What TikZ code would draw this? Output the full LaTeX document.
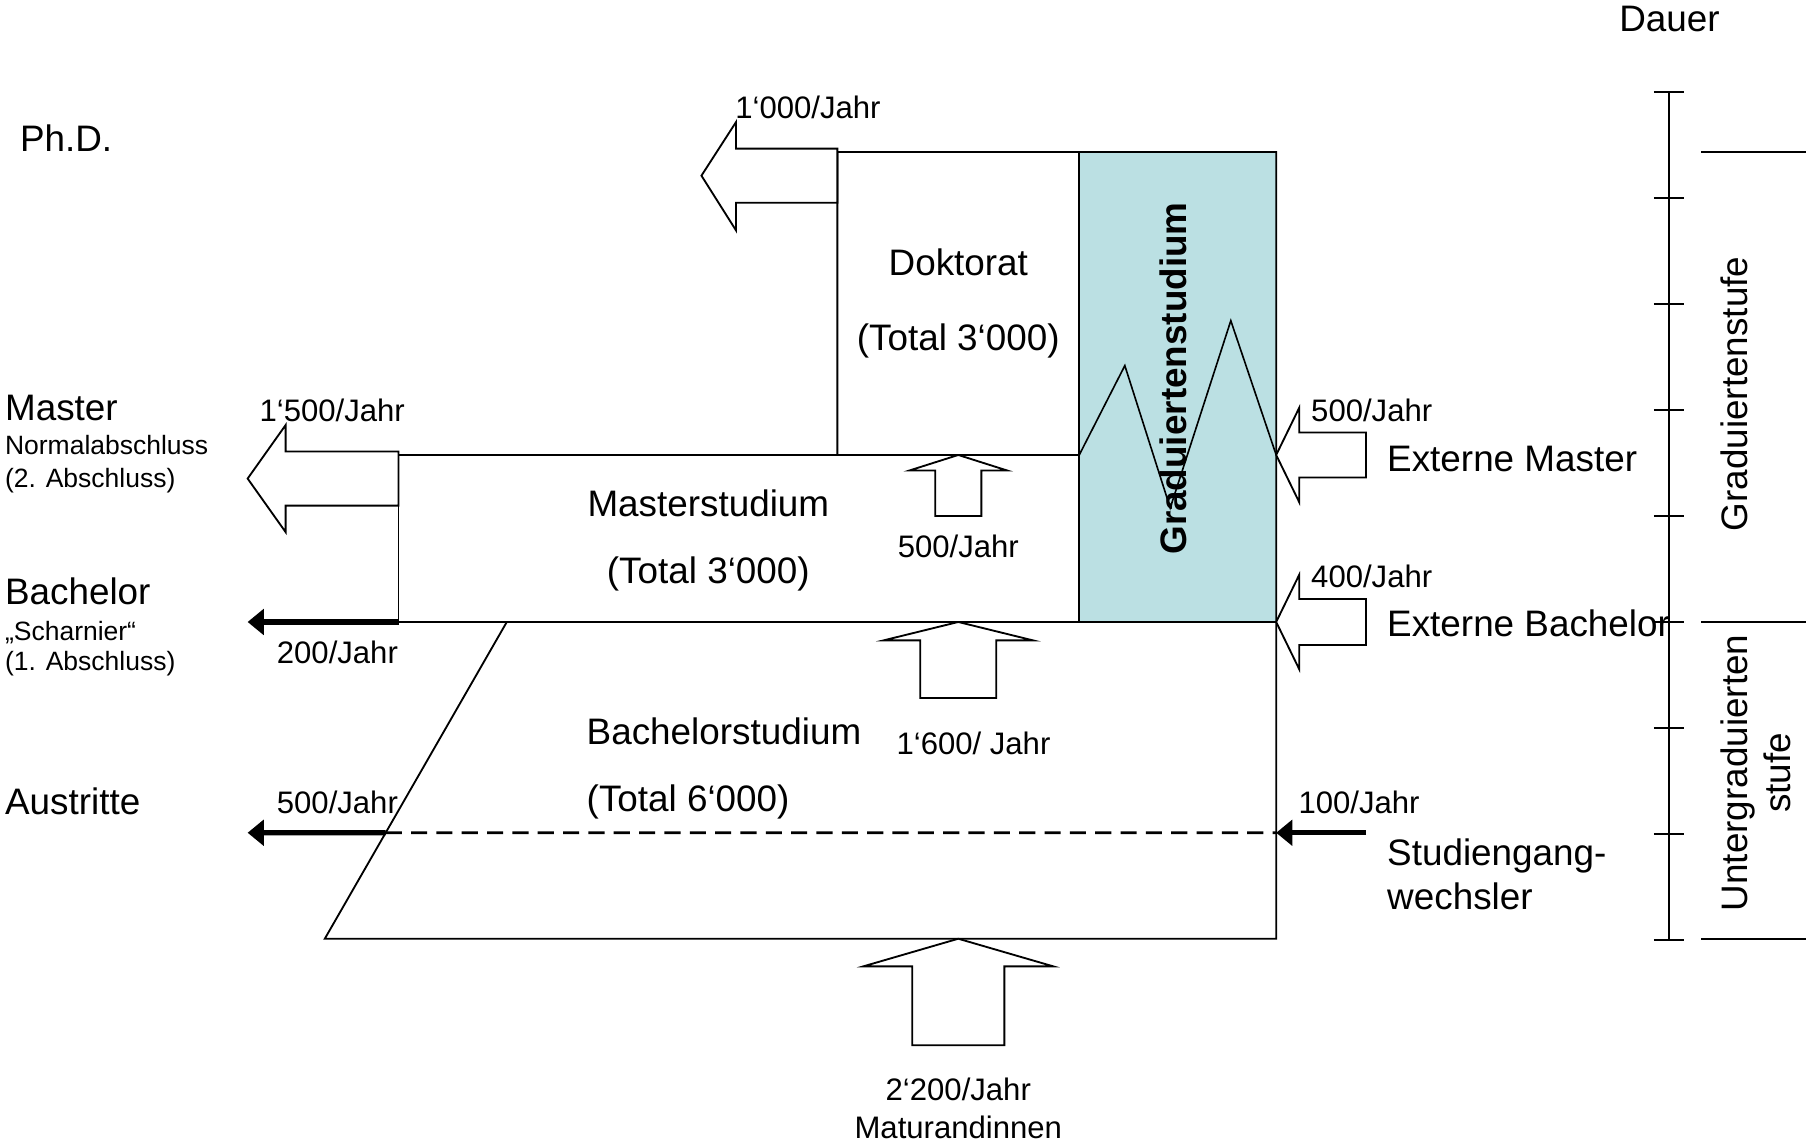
\documentclass[tikz,border=0pt]{standalone}
\usepackage{fontspec}
\setmainfont{Liberation Sans}
\usetikzlibrary{arrows.meta,calc,positioning}
\definecolor{gradblue}{RGB}{187,224,227}
\tikzset{>=stealth,
	big/.style={inner sep=0pt, font=\fontsize{16pt}{19pt}\selectfont},
	rate/.style={inner sep=0pt, font=\fontsize{13.5pt}{16pt}\selectfont},
	note/.style={inner sep=0pt, font=\fontsize{11.5pt}{14pt}\selectfont},
	wall/.style={line width=0.8pt},
	fatarrow/.style={draw, fill=white, line width=0.8pt},
	flow/.style={line width=2.2pt, -{Triangle[length=7pt,width=11pt]}}
}

\begin{document}
\begin{tikzpicture}[x=0.5pt, y=-0.5pt]
	\useasboundingbox (0,0) rectangle (1568,993);

	% corners of the three study blocks
	\coordinate (dok-nw) at (727,132);
	\coordinate (dok-sw) at (727,395);
	\coordinate (grad-nw) at (937,132);
	\coordinate (grad-sw) at (937,395);
	\coordinate (ma-nw) at (346,395);
	\coordinate (ma-sw) at (346,540);
	\coordinate (ma-se) at (1108,540);
	\coordinate (ba-nw) at (440,540);
	\coordinate (ba-sw) at (282,815);
	\coordinate (ba-se) at (1108,815);
	\coordinate (ne) at (1108,132);
	\coordinate (drop) at ($(ba-nw)!0.6655!(ba-sw)$);
	\coordinate (drop-e) at (1108,723);

	% Graduiertenstudium
	\fill[gradblue] (grad-nw) rectangle (ma-se);
	\draw[wall] (grad-nw) -- (grad-nw |- ma-se);
	\draw[wall] (dok-sw) -- (dok-nw) -- (ne) -- (ba-se) -- (ba-sw) -- (ba-nw);
	\draw[wall] (ma-nw) -- (grad-sw);
	\draw[wall] (ma-nw) -- (ma-sw) -- (ma-se);
	\draw[line width=0.7pt] (grad-sw) -- (976.6,317.4) -- (1016,441) -- (1068.6,278.4) -- (1108,395);
	\draw[line width=1.2pt, dash pattern=on 7pt off 4pt] (drop) -- (drop-e);

	% block arrows
	\draw[fatarrow] (727,129) -- (639,129) -- (639,106) -- (609,152.5) -- (639,200) -- (639,176) -- (727,176) -- cycle;
	\draw[fatarrow] (346,392) -- (248,392) -- (248,369) -- (215,415.5) -- (248,462) -- (248,439) -- (346,439) -- cycle;
	\draw[fatarrow] (812,448) -- (812,408.5) -- (789.5,408.5) -- (832,395) -- (874.5,408.5) -- (852,408.5) -- (852,448) -- cycle;
	\draw[fatarrow] (799,606) -- (799,556) -- (767,556) -- (832,540) -- (897,556) -- (865,556) -- (865,606) -- cycle;
	\draw[fatarrow] (792,907.5) -- (792,839) -- (749.5,839) -- (832,815) -- (914.5,839) -- (872,839) -- (872,907.5) -- cycle;
	\draw[fatarrow] (1186,375.5) -- (1128,375.5) -- (1128,354) -- (1108,395) -- (1128,436) -- (1128,414.5) -- (1186,414.5) -- cycle;
	\draw[fatarrow] (1186,520) -- (1128,520) -- (1128,499) -- (1108,540) -- (1128,581) -- (1128,560) -- (1186,560) -- cycle;

	% thin flows
	\coordinate (ba-out) at (215,540);
	\coordinate (drop-out) at (215,723);
	\coordinate (switch-in) at (1186,723);
	\draw[flow] (ma-sw) -- (ba-out);
	\draw[flow] (drop) -- (drop-out);
	\draw[flow] (switch-in) -- (drop-e);

	% Dauer axis
	\draw[wall] (1449,80) -- (1449,816);
	\foreach \k in {0,...,8}
		\draw[wall] (1436,80+92*\k) -- (1462,80+92*\k);
	\draw[wall] (1477,132) -- (1568,132);
	\draw[wall] (1477,540) -- (1568,540);
	\draw[wall] (1477,815) -- (1568,815);

	% labels
	\node[big, anchor=base] (dauer) at (1449.5,27.5) {Dauer};
	\node[big, anchor=base west] (phd) at (17,131.5) {Ph.D.};
	\node[rate, anchor=base west] (phd-rate) at (638,102.7) {1‘000/Jahr};
	\node[big, anchor=base] (dok) at (832,239.5) {Doktorat};
	\node[big, anchor=base] (dok-total) at (832,304.5) {(Total 3‘000)};
	\node[big, anchor=base west] (master) at (4,365.5) {Master};
	\node[note, anchor=base west] (master-a) at (4,395) {Normalabschluss};
	\node[note, anchor=base west] (master-b) at (4,423) {(2. Abschluss)};
	\node[rate, anchor=base west] (master-rate) at (225,365.7) {1‘500/Jahr};
	\node[big, anchor=base] (ma) at (615,448.5) {Masterstudium};
	\node[big, anchor=base] (ma-total) at (615,506.5) {(Total 3‘000)};
	\node[rate, anchor=base] (dok-in) at (832,483.7) {500/Jahr};
	\node[rotate=90, inner sep=0pt, font=\bfseries\fontsize{16pt}{19pt}\selectfont] (grad) at (1019,328.6) {Graduiertenstudium};
	\node[rate, anchor=base west] (extma-rate) at (1138,365.7) {500/Jahr};
	\node[big, anchor=base west] (extma) at (1204,409.5) {Externe Master};
	\node[rate, anchor=base west] (extba-rate) at (1138,509.7) {400/Jahr};
	\node[big, anchor=base west] (extba) at (1204,552.5) {Externe Bachelor};
	\node[big, anchor=base west] (bachelor) at (4,524.5) {Bachelor};
	\node[note, anchor=base west] (bachelor-a) at (4,556) {„Scharnier“};
	\node[note, anchor=base west] (bachelor-b) at (4,582) {(1. Abschluss)};
	\node[rate, anchor=base west] (bachelor-rate) at (240,575.7) {200/Jahr};
	\node[big, anchor=base west] (ba) at (509,646.5) {Bachelorstudium};
	\node[rate, anchor=base west] (ma-in) at (778,654.7) {1‘600/ Jahr};
	\node[big, anchor=base west] (ba-total) at (509,704.5) {(Total 6‘000)};
	\node[big, anchor=base west] (austritte) at (4,707.5) {Austritte};
	\node[rate, anchor=base west] (austritte-rate) at (240,706.7) {500/Jahr};
	\node[rate, anchor=base west] (switch-rate) at (1127,706.7) {100/Jahr};
	\node[big, anchor=base west] (switch-a) at (1204,751.5) {Studiengang-};
	\node[big, anchor=base west] (switch-b) at (1204,789.5) {wechsler};
	\node[rate, anchor=base] (matur-rate) at (832,955.7) {2‘200/Jahr};
	\node[rate, anchor=base] (matur) at (832,988.7) {Maturandinnen};
	\node[big, rotate=90] (gstufe) at (1505.5,342) {Graduiertenstufe};
	\node[big, rotate=90, align=center] (ustufe) at (1524.5,671) {Untergraduierten\\stufe};
\end{tikzpicture}
\end{document}
